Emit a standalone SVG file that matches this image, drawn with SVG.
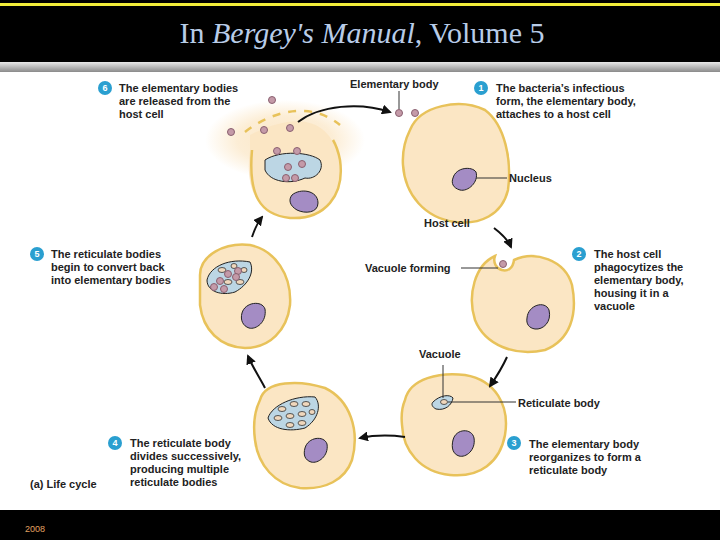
<svg xmlns="http://www.w3.org/2000/svg" width="720" height="540" viewBox="0 0 720 540">
<defs>
<linearGradient id="bar" x1="0" y1="0" x2="0" y2="1"><stop offset="0" stop-color="#e8e8e8"/><stop offset="1" stop-color="#8a8a8a"/></linearGradient>
<radialGradient id="glow" cx="0.5" cy="0.5" r="0.5"><stop offset="0" stop-color="#fbe6c4"/><stop offset="0.6" stop-color="#fbe6c4" stop-opacity="0.7"/><stop offset="1" stop-color="#fbe6c4" stop-opacity="0"/></radialGradient>
<marker id="ah" viewBox="0 0 10 10" refX="8" refY="5" markerWidth="5" markerHeight="5" orient="auto"><path d="M0,0 L10,5 L0,10 z" fill="#111"/></marker>
<style>
.cell{fill:#fbe6c4;stroke:#e8c25a;stroke-width:2.5}
.nuc{fill:#a48cc4;stroke:#222;stroke-width:1}
.vac{fill:#bcd6e4;stroke:#222;stroke-width:1}
.eb{fill:#c49aa8;stroke:#8a6070;stroke-width:1}
.rb{fill:#f0d7bc;stroke:#333;stroke-width:0.8}
.t{font-family:"Liberation Sans",Arial,sans-serif;font-size:11px;font-weight:bold;fill:#222}
.num{fill:#2a9fd0}
.numt{font-family:"Liberation Sans",Arial,sans-serif;font-size:9px;font-weight:bold;fill:#fff;text-anchor:middle}
.arr{fill:none;stroke:#111;stroke-width:2;marker-end:url(#ah)}
.lead{fill:none;stroke:#333;stroke-width:1}
.dash{fill:none;stroke:#e8c25a;stroke-width:2.5;stroke-dasharray:8,8}
</style>
</defs>
<rect width="720" height="540" fill="#fff"/>
<rect width="720" height="62" fill="#000"/>
<rect y="3" width="720" height="3" fill="#f2ee3a"/>
<rect y="62" width="720" height="10" fill="url(#bar)"/>
<rect y="510" width="720" height="30" fill="#000"/>
<text x="362" y="43" font-family="Liberation Serif,serif" font-size="30" fill="#b8cce8" text-anchor="middle">In <tspan font-style="italic">Bergey's Manual</tspan>, Volume 5</text>
<text x="25" y="532" font-family="Liberation Sans,sans-serif" font-size="9" fill="#e0a060">2008</text>

<g id="cell6">
<ellipse cx="285" cy="140" rx="80" ry="40" fill="url(#glow)"/>
<path d="M250,135 C300,110 330,120 340,160 C345,195 325,220 290,218 C255,215 245,185 250,150 Z" fill="#fbe6c4" stroke="none"/>
<path class="cell" fill="none" d="M252,150 C248,195 260,215 290,218 C325,220 345,195 340,160 C338,150 336,145 333,140"/>
<path class="dash" d="M245,132 C270,112 310,100 340,125"/>
<path class="vac" d="M265,160 C280,150 310,152 320,160 C325,170 315,180 305,178 C290,185 270,182 265,170 Z"/>
<path class="nuc" d="M292,195 C300,188 318,190 318,203 C318,213 305,214 297,210 C290,206 288,200 292,195 Z"/>
<circle class="eb" cx="272" cy="100" r="3.5"/><circle class="eb" cx="231" cy="132" r="3.5"/><circle class="eb" cx="264" cy="130" r="3.5"/><circle class="eb" cx="290" cy="128" r="3.5"/>
<circle class="eb" cx="277" cy="151" r="3.5"/><circle class="eb" cx="297" cy="151" r="3.5"/><circle class="eb" cx="288" cy="167" r="3.5"/><circle class="eb" cx="302" cy="164" r="3.5"/><circle class="eb" cx="286" cy="178" r="3.5"/><circle class="eb" cx="295" cy="178" r="3.5"/>
<circle class="num" cx="105" cy="88" r="7"/><text class="numt" x="105" y="91">6</text>
<text class="t" x="119" y="92">The elementary bodies</text><text class="t" x="119" y="105">are released from the</text><text class="t" x="119" y="118">host cell</text>
</g>

<g id="cell1">
<path class="cell" d="M410,130 C420,105 460,98 485,110 C505,125 512,160 508,190 C502,215 480,225 455,222 C425,218 405,195 403,165 C402,150 405,140 410,130 Z"/>
<path class="nuc" d="M453,178 C456,167 472,166 476,172 C479,182 468,192 460,190 C453,188 451,183 453,178 Z"/>
<circle class="eb" cx="399" cy="113" r="3.5"/><circle class="eb" cx="415" cy="113" r="3.5"/>
<line class="lead" x1="399" y1="91" x2="399" y2="109"/>
<text class="t" x="350" y="88">Elementary body</text>
<line class="lead" x1="476" y1="178" x2="507" y2="178"/>
<text class="t" x="509" y="182">Nucleus</text>
<text class="t" x="424" y="227">Host cell</text>
<circle class="num" cx="481" cy="88" r="7"/><text class="numt" x="481" y="91">1</text>
<text class="t" x="496" y="92">The bacteria’s infectious</text><text class="t" x="496" y="105">form, the elementary body,</text><text class="t" x="496" y="118">attaches to a host cell</text>
</g>

<g id="cell2">
<path class="cell" d="M495,256 C490,270 512,278 514,260 C535,250 565,260 572,285 C578,315 570,340 545,350 C515,357 485,345 475,320 C467,295 475,265 495,256 Z"/>
<circle class="eb" cx="503" cy="264" r="3.5"/>
<path class="nuc" d="M527,318 C528,305 545,300 549,310 C552,322 543,330 535,329 C529,328 526,324 527,318 Z"/>
<line class="lead" x1="461" y1="268" x2="498" y2="268"/>
<text class="t" x="365" y="272">Vacuole forming</text>
<circle class="num" cx="579" cy="254" r="7"/><text class="numt" x="579" y="257">2</text>
<text class="t" x="594" y="258">The host cell</text><text class="t" x="594" y="271">phagocytizes the</text><text class="t" x="594" y="284">elementary body,</text><text class="t" x="594" y="297">housing it in a</text><text class="t" x="594" y="310">vacuole</text>
</g>

<g id="cell3">
<path class="cell" d="M405,400 C410,378 440,372 465,375 C495,380 510,405 505,435 C500,462 480,478 450,475 C420,472 403,450 402,425 C401,415 402,407 405,400 Z"/>
<path class="vac" d="M433,402 C440,395 450,394 453,398 C452,405 445,411 436,409 C432,407 431,404 433,402 Z"/>
<ellipse class="rb" cx="444" cy="402" rx="3.5" ry="2.5"/>
<path class="nuc" d="M453,440 C456,428 472,428 474,438 C476,450 466,458 459,456 C453,454 451,448 453,440 Z"/>
<line class="lead" x1="443" y1="365" x2="443" y2="398"/>
<text class="t" x="419" y="358">Vacuole</text>
<line class="lead" x1="448" y1="402" x2="516" y2="402"/>
<text class="t" x="518" y="407">Reticulate body</text>
<circle class="num" cx="514" cy="443" r="7"/><text class="numt" x="514" y="446">3</text>
<text class="t" x="529" y="448">The elementary body</text><text class="t" x="529" y="461">reorganizes to form a</text><text class="t" x="529" y="474">reticulate body</text>
</g>

<g id="cell4">
<path class="cell" d="M260,400 C265,380 300,380 325,388 C350,400 360,430 352,460 C345,480 325,490 300,488 C275,485 258,465 255,440 C253,425 255,410 260,400 Z"/>
<path class="vac" d="M268,418 C272,405 295,395 315,397 C322,405 318,420 305,428 C290,432 272,430 268,418 Z"/>
<ellipse class="rb" cx="282" cy="409" rx="4" ry="2.5"/><ellipse class="rb" cx="294" cy="404" rx="4" ry="2.5"/><ellipse class="rb" cx="306" cy="404" rx="4" ry="2.5"/><ellipse class="rb" cx="278" cy="418" rx="4" ry="2.5"/><ellipse class="rb" cx="290" cy="416" rx="4" ry="2.5"/><ellipse class="rb" cx="302" cy="414" rx="4" ry="2.5"/><ellipse class="rb" cx="312" cy="412" rx="3" ry="2.5"/><ellipse class="rb" cx="290" cy="425" rx="4" ry="2.5"/><ellipse class="rb" cx="302" cy="423" rx="4" ry="2.5"/>
<path class="nuc" d="M305,448 C308,437 324,435 327,444 C329,456 318,464 311,462 C305,460 303,455 305,448 Z"/>
<circle class="num" cx="115" cy="443" r="7"/><text class="numt" x="115" y="446">4</text>
<text class="t" x="130" y="447">The reticulate body</text><text class="t" x="130" y="460">divides successively,</text><text class="t" x="130" y="473">producing multiple</text><text class="t" x="130" y="486">reticulate bodies</text>
<text class="t" x="30" y="488">(a) Life cycle</text>
</g>

<g id="cell5">
<path class="cell" d="M200,275 C200,255 225,242 250,245 C275,250 292,275 290,305 C287,330 270,348 245,348 C220,347 203,330 200,305 Z"/>
<path class="vac" d="M207,280 C210,266 230,258 250,262 C255,272 248,285 235,292 C222,296 207,292 207,280 Z"/>
<ellipse class="rb" cx="222" cy="270" rx="4" ry="2.5"/><ellipse class="rb" cx="234" cy="266" rx="3" ry="2.5"/><ellipse class="rb" cx="244" cy="270" rx="3" ry="2.5"/><ellipse class="rb" cx="228" cy="282" rx="4" ry="2.5"/><ellipse class="rb" cx="240" cy="282" rx="4" ry="2.5"/>
<circle class="eb" cx="220" cy="281" r="3.5"/><circle class="eb" cx="228" cy="274" r="3.5"/><circle class="eb" cx="238" cy="271" r="3.5"/><circle class="eb" cx="214" cy="287" r="3.5"/><circle class="eb" cx="224" cy="289" r="3.5"/><circle class="eb" cx="236" cy="277" r="3.5"/>
<path class="nuc" d="M242,313 C245,302 262,300 265,309 C267,322 256,330 249,328 C243,326 240,320 242,313 Z"/>
<circle class="num" cx="37" cy="254" r="7"/><text class="numt" x="37" y="257">5</text>
<text class="t" x="51" y="258">The reticulate bodies</text><text class="t" x="51" y="271">begin to convert back</text><text class="t" x="51" y="284">into elementary bodies</text>
</g>

<g id="connectors">
<path class="arr" d="M298,122 C320,105 360,102 390,112"/>
<path class="arr" d="M494,228 C502,234 508,240 511,247"/>
<path class="arr" d="M507,357 C502,368 497,376 490,386"/>
<path class="arr" d="M405,437 C390,435 375,435 360,438"/>
<path class="arr" d="M265,388 C260,378 253,368 248,356"/>
<path class="arr" d="M252,237 C255,228 258,222 262,217"/>
</g>
</svg>
